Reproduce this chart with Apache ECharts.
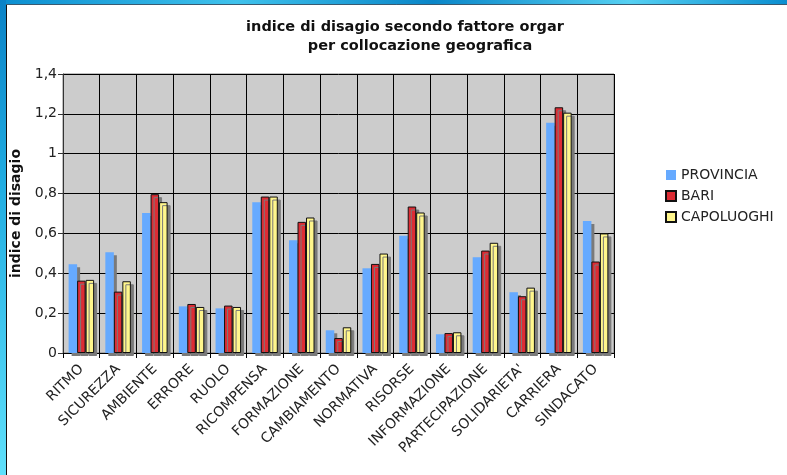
<!DOCTYPE html>
<html>
<head>
<meta charset="utf-8">
<script src="https://cdn.jsdelivr.net/npm/echarts@6/dist/echarts.min.js"></script>
<style>
  html, body { margin: 0; padding: 0; background: #fff; }
  #chart { width: 787px; height: 475px; }
</style>
</head>
<body>
<div id="chart"></div>
<script>
  const categories = ['RITMO', 'SICUREZZA', 'AMBIENTE', 'ERRORE', 'RUOLO', 'RICOMPENSA', 'FORMAZIONE',
    'CAMBIAMENTO', 'NORMATIVA', 'RISORSE', 'INFORMAZIONE', 'PARTECIPAZIONE', "SOLIDARIETA'", 'CARRIERA', 'SINDACATO'];
  const provincia = [0.445, 0.506, 0.702, 0.234, 0.224, 0.757, 0.566, 0.114, 0.425, 0.588, 0.094, 0.481, 0.305, 1.156, 0.662];
  const bari = [0.363, 0.308, 0.797, 0.246, 0.238, 0.785, 0.658, 0.075, 0.447, 0.735, 0.100, 0.514, 0.285, 1.233, 0.459];
  const capoluoghi = [0.367, 0.360, 0.757, 0.231, 0.231, 0.785, 0.680, 0.129, 0.499, 0.705, 0.104, 0.553, 0.328, 1.206, 0.600];
  const seriesNames = ['PROVINCIA', 'BARI', 'CAPOLUOGHI'];
  const yTicks = [0, 0.2, 0.4, 0.6, 0.8, 1, 1.2, 1.4];

  const font = 'DejaVu Sans';
  const chart = echarts.init(document.getElementById('chart'));

  function barSeries(name, data, color, bordered) {
    return {
      name: name,
      type: 'bar',
      data: data,
      barWidth: 8.5,
      barGap: 0,
      animation: false,
      itemStyle: {
        color: color,
        borderColor: bordered ? '#111' : color,
        borderWidth: bordered ? 1 : 0,
        shadowColor: '#7a7a7a',
        shadowOffsetX: 3,
        shadowOffsetY: 3,
        shadowBlur: 0
      }
    };
  }

  const option = {
    backgroundColor: '#fff',
    animation: false,
    textStyle: { fontFamily: font },
    grid: {
      left: 63,
      right: 173,
      top: 74,
      bottom: 122,
      show: true,
      backgroundColor: '#cccccc',
      borderColor: '#808080',
      borderWidth: 1
    },
    legend: {
      orient: 'vertical',
      left: 665,
      top: 168,
      padding: 0,
      itemWidth: 10,
      itemHeight: 10,
      itemGap: 7,
      icon: 'rect',
      data: seriesNames,
      textStyle: { fontFamily: font, fontSize: 14, color: '#222' }
    },
    xAxis: {
      type: 'category',
      data: categories,
      boundaryGap: true,
      axisLine: { lineStyle: { color: '#000', width: 1 } },
      axisTick: { show: true, length: 5, lineStyle: { color: '#000' } },
      splitLine: { show: true, lineStyle: { color: '#000', width: 1 } },
      axisLabel: {
        interval: 0,
        rotate: 45,
        margin: 14,
        fontFamily: font,
        fontSize: 14,
        color: '#222'
      }
    },
    yAxis: {
      type: 'value',
      min: yTicks[0],
      max: yTicks[yTicks.length - 1],
      interval: 0.2,
      name: 'indice di disagio',
      nameLocation: 'middle',
      nameGap: 39,
      nameTextStyle: { fontFamily: font, fontSize: 14, fontWeight: 'bold', color: '#111' },
      axisLine: { show: true, lineStyle: { color: '#333' } },
      axisTick: { show: true, length: 5, lineStyle: { color: '#333' } },
      splitLine: { show: true, lineStyle: { color: '#000', width: 1 } },
      axisLabel: {
        margin: 6,
        fontFamily: font,
        fontSize: 14,
        color: '#222',
        formatter: v => String(+v.toFixed(1)).replace('.', ',')
      }
    },
    series: [
      barSeries(seriesNames[0], provincia, '#66aaff', false),
      barSeries(seriesNames[1], bari, '#dd2c34', true),
      barSeries(seriesNames[2], capoluoghi, '#fff68c', true)
    ],
    graphic: [
      // window frame
      {
        type: 'rect', left: 0, top: 0, silent: true,
        shape: { x: 0, y: 0, width: 787, height: 5 },
        style: {
          fill: new echarts.graphic.LinearGradient(0, 0, 1, 0, [
            { offset: 0, color: '#0b8ed0' },
            { offset: 0.3, color: '#3fc2ec' },
            { offset: 0.55, color: '#0a86c8' },
            { offset: 0.8, color: '#55d0f2' },
            { offset: 1, color: '#0b8ed0' }
          ])
        }
      },
      {
        type: 'rect', left: 0, top: 0, silent: true,
        shape: { x: 0, y: 0, width: 6, height: 475 },
        style: {
          fill: new echarts.graphic.LinearGradient(0, 0, 0, 1, [
            { offset: 0, color: '#0a82c6' },
            { offset: 0.4, color: '#22aee2' },
            { offset: 1, color: '#5fe0fb' }
          ])
        }
      },
      {
        type: 'line', silent: true,
        shape: { x1: 6.5, y1: 5, x2: 6.5, y2: 475 },
        style: { stroke: '#111', lineWidth: 1 }
      },
      {
        type: 'line', silent: true,
        shape: { x1: 6, y1: 4.5, x2: 787, y2: 4.5 },
        style: { stroke: '#3a5a70', lineWidth: 1 }
      },
      // title, two lines
      {
        type: 'text', silent: true, x: 405, y: 20,
        style: {
          text: 'indice di disagio secondo fattore orgar',
          textAlign: 'center',
          font: 'bold 14.5px "DejaVu Sans"',
          fill: '#111'
        }
      },
      {
        type: 'text', silent: true, x: 420, y: 39,
        style: {
          text: 'per collocazione geografica',
          textAlign: 'center',
          font: 'bold 14.5px "DejaVu Sans"',
          fill: '#111'
        }
      }
    ]
  };

  chart.setOption(option);
</script>
</body>
</html>
